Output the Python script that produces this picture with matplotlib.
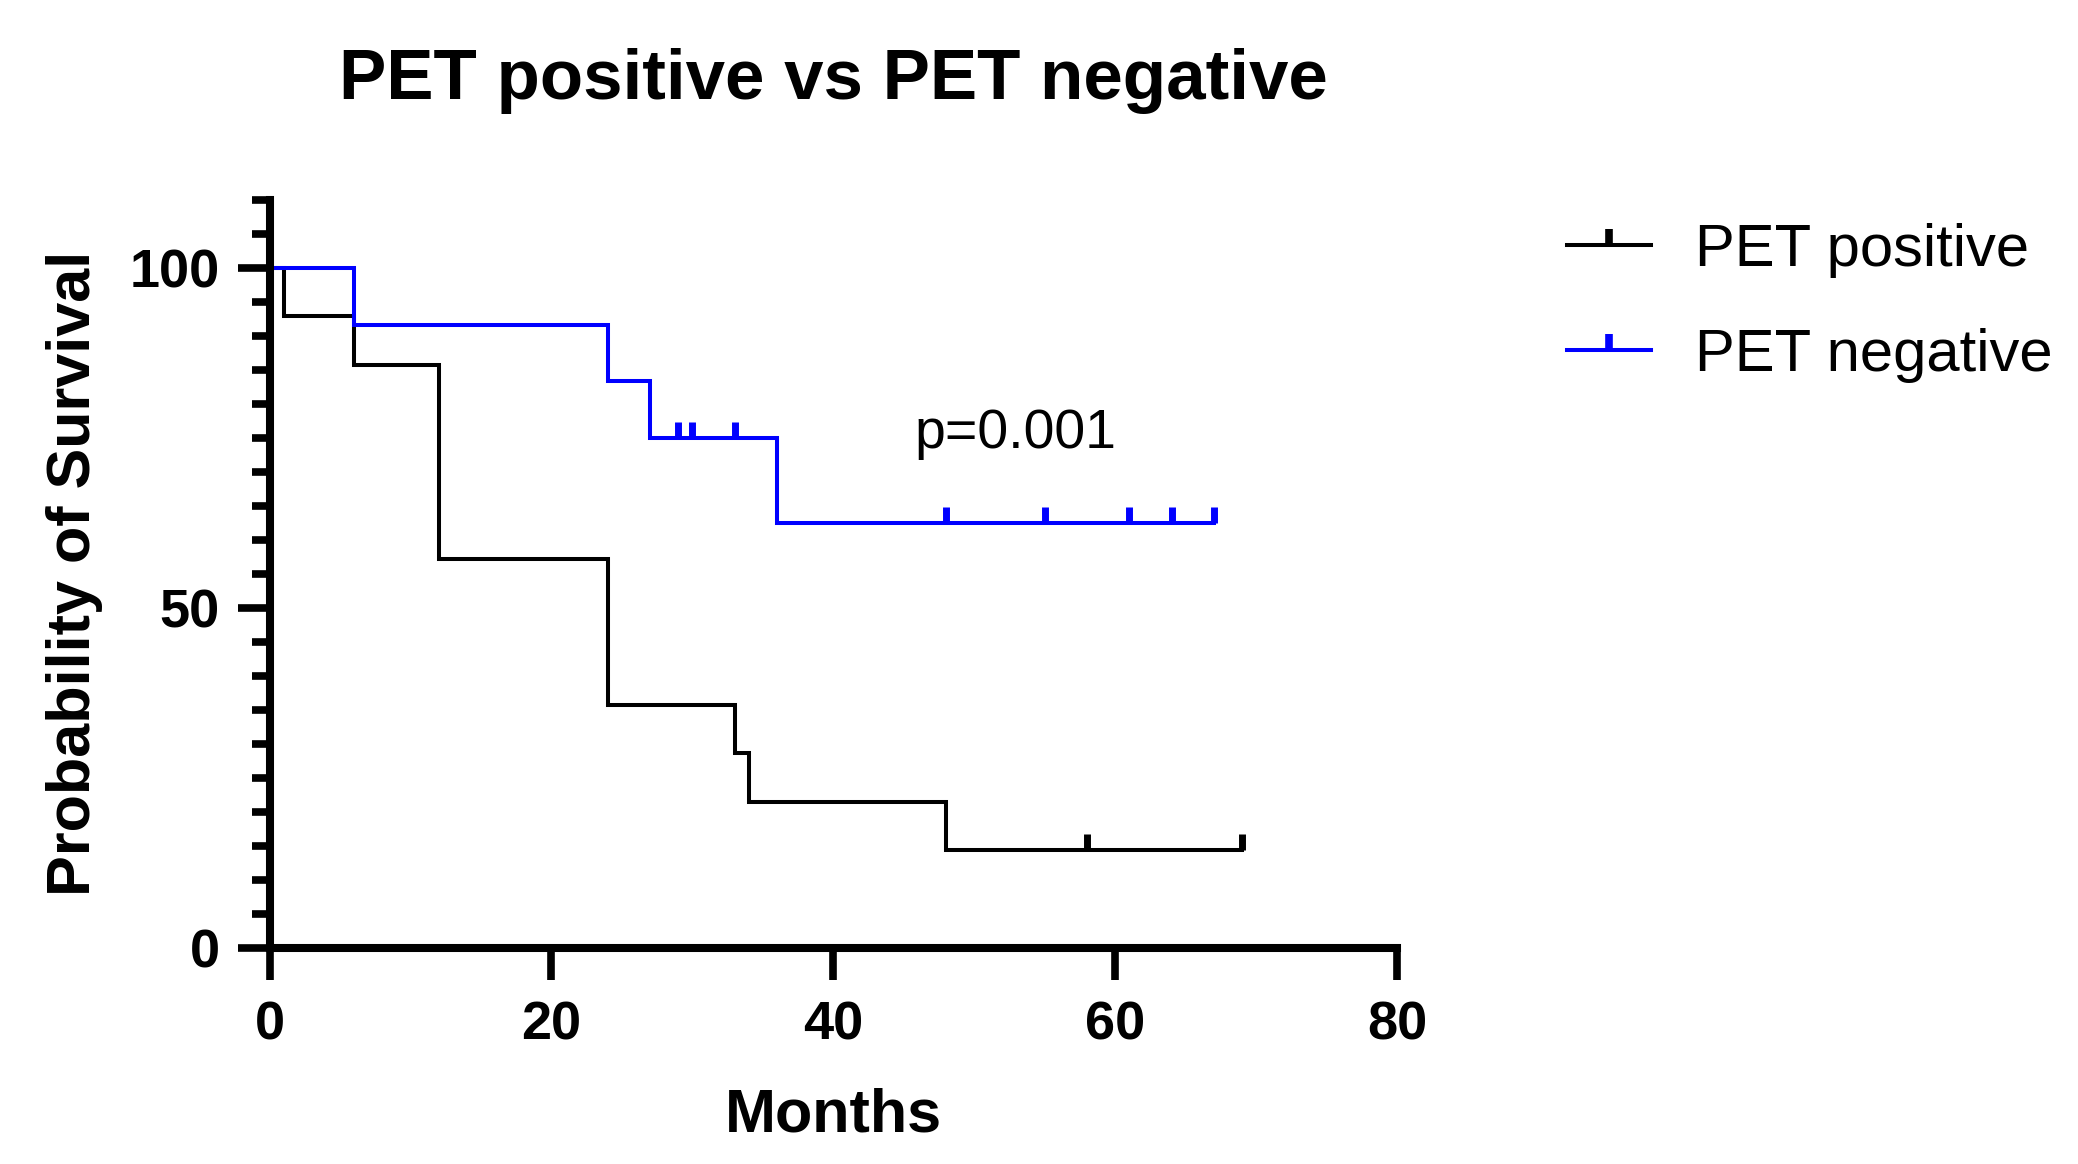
import numpy as np
import matplotlib
matplotlib.use('Agg')
import matplotlib.pyplot as plt
from matplotlib.path import Path
from matplotlib.lines import Line2D

# Kaplan-Meier steps (months, % survival)
pos_t = [0, 1, 6, 12, 24, 33, 34, 48, 69]
pos_s = [100, 92.86, 85.71, 57.14, 35.71, 28.57, 21.43, 14.29, 14.29]
pos_cens_t = [58, 69]
pos_cens_s = [14.29, 14.29]

neg_t = [0, 6, 24, 27, 36, 67]
neg_s = [100, 91.67, 83.33, 75.0, 62.5, 62.5]
neg_cens_t = [29, 30, 33, 48, 55, 61, 64, 67]
neg_cens_s = [75.0, 75.0, 75.0, 62.5, 62.5, 62.5, 62.5, 62.5]

labels = ['PET positive', 'PET negative']
colors = ['black', '#0000FF']
p_text = 'p=0.001'

plt.rcParams['font.family'] = ['Liberation Sans', 'DejaVu Sans']

W, H = 2078, 1164
x0, x1 = 269.5, 1397
y0, y1 = 947.5, 200
fig = plt.figure(figsize=(W / 100, H / 100), dpi=100)
ax = fig.add_axes([x0 / W, 1 - y0 / H, (x1 - x0) / W, (y0 - y1) / H])

# censor tick: vertical line going up from the point
tick_up = Path([(0, 0), (0, 1)])

lw = 2.9
for t, s, ct, cs, c in [(pos_t, pos_s, pos_cens_t, pos_cens_s, colors[0]),
                        (neg_t, neg_s, neg_cens_t, neg_cens_s, colors[1])]:
    ax.step(t, s, where='post', color=c, lw=lw, solid_joinstyle='miter')
    ax.plot(ct, cs, ls='none', marker=tick_up, markersize=23,
            markeredgewidth=5, color=c)

ax.set_xlim(0, 80)
ax.set_ylim(0, 110)
ax.set_xticks([0, 20, 40, 60, 80])
ax.set_yticks([0, 50, 100])
ax.set_yticks(np.arange(0, 111, 5), minor=True)

for side in ['top', 'right']:
    ax.spines[side].set_visible(False)
for side in ['left', 'bottom']:
    ax.spines[side].set_linewidth(5.8)
    ax.spines[side].set_capstyle('projecting')

ax.tick_params(axis='both', which='major', length=23, width=5.5,
               labelsize=39)
ax.tick_params(axis='y', which='minor', length=13, width=5.5)
ax.tick_params(axis='y', which='major', pad=13)
ax.tick_params(axis='x', which='major', pad=15)
for lab in ax.get_xticklabels() + ax.get_yticklabels():
    lab.set_fontweight('bold')

ax.set_xlabel('Months', fontsize=44, fontweight='bold', labelpad=27)
ax.set_ylabel('Probability of Survival', fontsize=44, fontweight='bold',
              labelpad=19)

ax.text(0.5, (y0 - 81) / (y0 - y1), 'PET positive vs PET negative',
        transform=ax.transAxes, ha='center', va='center',
        fontsize=51, fontweight='bold')

ax.text(52.9, 75.5, p_text, ha='center', va='center', fontsize=40)

handles = [Line2D([], [], color=c, lw=lw, marker=tick_up, markersize=23,
                  markeredgewidth=5.5) for c in colors]
fig.legend(handles, labels, loc='upper left',
           bbox_to_anchor=(1567 / W, 1 - 223 / H), frameon=False,
           fontsize=43, handlelength=1.4, handletextpad=0.75,
           labelspacing=0.84, borderpad=0, borderaxespad=0)

fig.savefig('out.png', dpi=100)
